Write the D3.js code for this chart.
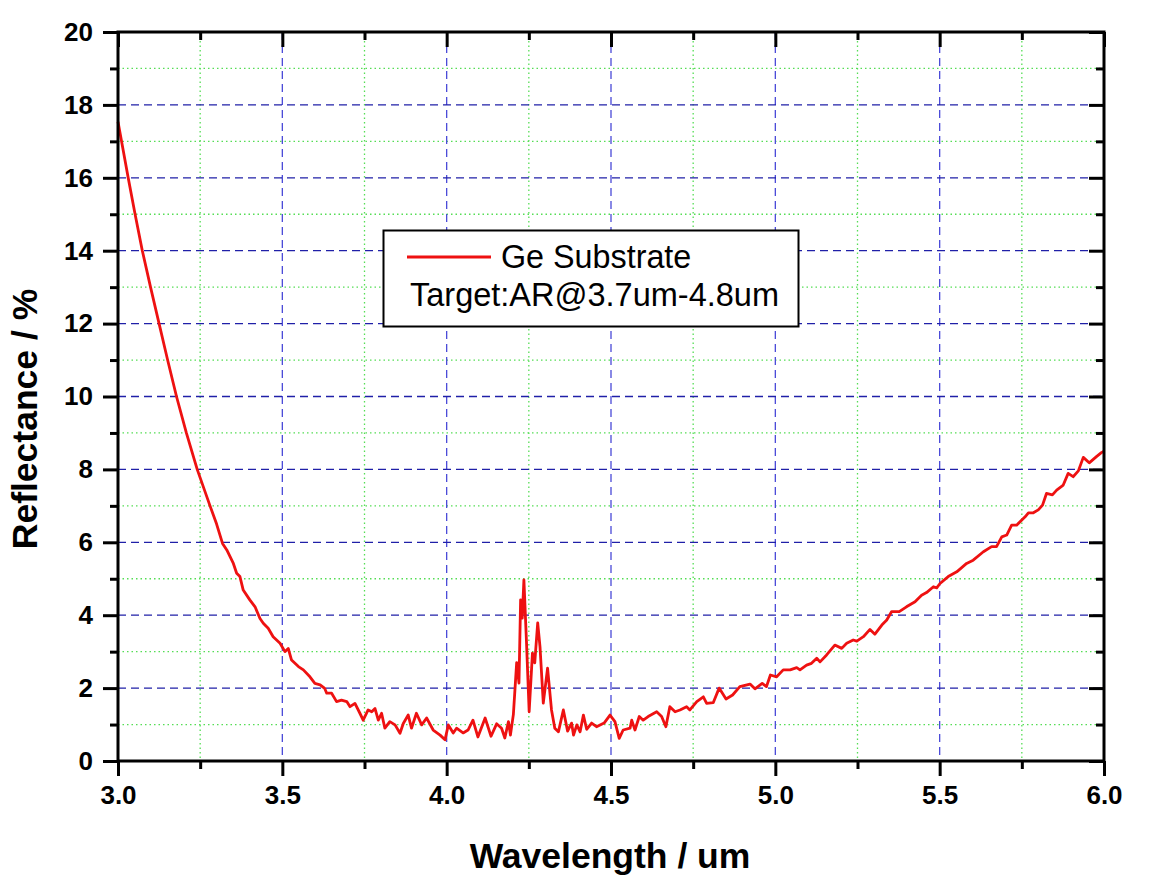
<!DOCTYPE html>
<html>
<head>
<meta charset="utf-8">
<script src="https://cdn.jsdelivr.net/npm/d3@7/dist/d3.min.js"></script>
<style>
html,body{margin:0;padding:0;background:#fff;}
svg{display:block;font-family:"Liberation Sans",Arial,sans-serif;}
</style>
</head>
<body>
<svg id="chart" width="1157" height="886"></svg>
<script>
// ---- data ----
const wavelength = [3.000,3.031,3.052,3.074,3.099,3.125,3.151,3.178,3.208,3.241,3.280,3.300,3.318,3.331,3.351,3.361,3.371,3.381,3.401,3.417,3.432,3.442,3.457,3.472,3.493,3.508,3.518,3.528,3.549,3.564,3.584,3.599,3.615,3.629,3.635,3.650,3.665,3.680,3.696,3.706,3.721,3.736,3.746,3.761,3.772,3.782,3.792,3.802,3.812,3.827,3.843,3.858,3.868,3.883,3.893,3.908,3.924,3.939,3.959,3.980,3.995,4.005,4.020,4.030,4.050,4.065,4.080,4.095,4.117,4.135,4.152,4.167,4.177,4.188,4.194,4.203,4.213,4.220,4.225,4.230,4.235,4.243,4.251,4.261,4.268,4.277,4.284,4.294,4.307,4.319,4.329,4.340,4.355,4.368,4.380,4.386,4.396,4.406,4.416,4.426,4.441,4.456,4.479,4.497,4.512,4.525,4.537,4.558,4.563,4.573,4.586,4.598,4.613,4.639,4.654,4.667,4.679,4.695,4.710,4.730,4.740,4.761,4.781,4.791,4.811,4.829,4.850,4.870,4.892,4.923,4.938,4.960,4.973,4.985,5.004,5.024,5.045,5.065,5.075,5.095,5.110,5.126,5.136,5.156,5.181,5.202,5.217,5.237,5.248,5.268,5.288,5.303,5.324,5.339,5.354,5.377,5.399,5.425,5.445,5.460,5.481,5.491,5.501,5.526,5.552,5.582,5.602,5.633,5.658,5.673,5.689,5.704,5.719,5.734,5.760,5.770,5.785,5.800,5.813,5.825,5.843,5.856,5.876,5.891,5.906,5.922,5.937,5.955,5.977,5.992,6.000];
const reflectance = [17.54,16.0,15.0,14.0,13.0,12.0,11.0,10.0,9.0,8.0,7.0,6.5,5.97,5.79,5.42,5.15,5.06,4.69,4.42,4.23,3.91,3.78,3.64,3.41,3.23,3.00,3.09,2.77,2.59,2.50,2.31,2.13,2.09,1.99,1.86,1.86,1.63,1.67,1.63,1.49,1.58,1.31,1.12,1.40,1.35,1.44,1.12,1.31,0.90,1.08,0.99,0.76,1.03,1.26,0.90,1.31,0.99,1.18,0.85,0.71,0.58,0.99,0.77,0.90,0.77,0.85,1.12,0.66,1.18,0.68,1.02,0.90,0.63,1.08,0.71,1.28,2.70,2.14,4.42,3.92,4.97,3.23,1.35,2.96,2.69,3.79,3.13,1.59,2.55,1.40,0.90,0.80,1.40,0.82,1.04,0.71,0.99,0.80,1.26,0.87,1.04,0.94,1.04,1.26,1.08,0.62,0.85,0.90,1.12,0.85,1.22,1.12,1.22,1.35,1.22,0.94,1.49,1.35,1.40,1.49,1.40,1.63,1.76,1.58,1.60,2.00,1.70,1.81,2.04,2.11,1.98,2.13,2.04,2.36,2.31,2.50,2.50,2.56,2.50,2.63,2.68,2.82,2.72,2.91,3.18,3.09,3.23,3.32,3.29,3.41,3.61,3.48,3.73,3.87,4.10,4.10,4.23,4.37,4.55,4.62,4.78,4.75,4.87,5.06,5.19,5.42,5.51,5.74,5.88,5.88,6.15,6.20,6.47,6.47,6.70,6.81,6.81,6.89,7.02,7.34,7.30,7.43,7.57,7.89,7.80,7.96,8.33,8.18,8.35,8.46,8.50];
const xMajorTicks = [3.0,3.5,4.0,4.5,5.0,5.5,6.0];
const xMinorTicks = [3.25,3.75,4.25,4.75,5.25,5.75];
const yMajorTicks = [0,2,4,6,8,10,12,14,16,18,20];
const yMinorTicks = [1,3,5,7,9,11,13,15,17,19];
const seriesName = "Ge Substrate";
const legendNote = "Target:AR@3.7um-4.8um";
const xTitle = "Wavelength / um";
const yTitle = "Reflectance / %";

// ---- layout ----
const L = 118, R = 1104, T = 32, B = 761;
const svg = d3.select("#chart");
const x = d3.scaleLinear().domain([3,6]).range([L,R]);
const y = d3.scaleLinear().domain([0,20]).range([B,T]);

// grid
const g = svg.append("g");
g.selectAll(".vminor").data(xMinorTicks).join("line")
  .attr("x1",d=>x(d)).attr("x2",d=>x(d)).attr("y1",T).attr("y2",B)
  .attr("stroke","#55dd55").attr("stroke-width",1.3).attr("stroke-dasharray","1.5,3");
g.selectAll(".hminor").data(yMinorTicks).join("line")
  .attr("x1",L).attr("x2",R).attr("y1",d=>y(d)).attr("y2",d=>y(d))
  .attr("stroke","#55dd55").attr("stroke-width",1.3).attr("stroke-dasharray","1.5,3");
g.selectAll(".vmajor").data(xMajorTicks.slice(1,-1)).join("line")
  .attr("x1",d=>x(d)).attr("x2",d=>x(d)).attr("y1",T).attr("y2",B)
  .attr("stroke","#4a4ad8").attr("stroke-width",1.3).attr("stroke-dasharray","8,5");
g.selectAll(".hmajor").data(yMajorTicks.slice(1,-1)).join("line")
  .attr("x1",L).attr("x2",R).attr("y1",d=>y(d)).attr("y2",d=>y(d))
  .attr("stroke","#2020a8").attr("stroke-width",1.3).attr("stroke-dasharray","8,5");

// data line
const pts = wavelength.map((w,i)=>[w,reflectance[i]]);
svg.append("path").datum(pts)
  .attr("fill","none").attr("stroke","#ee1111").attr("stroke-width",2.8)
  .attr("stroke-linejoin","round")
  .attr("d", d3.line().x(d=>x(d[0])).y(d=>y(d[1])));

// axes
function styleAxis(sel){
  sel.select(".domain").remove();
  sel.selectAll(".tick line").attr("stroke","#000").attr("stroke-width",3);
  sel.selectAll(".tick text").attr("fill","#000").attr("font-size",26).attr("font-weight","bold")
     .attr("font-family","'Liberation Sans',Arial,sans-serif");
}
const fmtX = d3.format(".1f");
svg.append("g").attr("transform",`translate(0,${B})`)
  .call(d3.axisBottom(x).tickValues(xMajorTicks).tickSize(15).tickPadding(10).tickFormat(fmtX))
  .call(styleAxis);
svg.append("g").attr("transform",`translate(0,${B})`)
  .call(d3.axisBottom(x).tickValues(xMinorTicks).tickSize(8).tickFormat(""))
  .call(styleAxis);
svg.append("g").attr("transform",`translate(0,${T})`)
  .call(d3.axisBottom(x).tickValues(xMajorTicks).tickSize(15).tickFormat(""))
  .call(styleAxis);
svg.append("g").attr("transform",`translate(0,${T})`)
  .call(d3.axisBottom(x).tickValues(xMinorTicks).tickSize(8).tickFormat(""))
  .call(styleAxis);
svg.append("g").attr("transform",`translate(${L},0)`)
  .call(d3.axisLeft(y).tickValues(yMajorTicks).tickSize(15).tickPadding(10).tickFormat(d3.format("d")))
  .call(styleAxis);
svg.append("g").attr("transform",`translate(${L},0)`)
  .call(d3.axisLeft(y).tickValues(yMinorTicks).tickSize(8).tickFormat(""))
  .call(styleAxis);
svg.append("g").attr("transform",`translate(${R},0)`)
  .call(d3.axisLeft(y).tickValues(yMajorTicks).tickSize(15).tickFormat(""))
  .call(styleAxis);
svg.append("g").attr("transform",`translate(${R},0)`)
  .call(d3.axisLeft(y).tickValues(yMinorTicks).tickSize(8).tickFormat(""))
  .call(styleAxis);

// frame
svg.append("rect").attr("x",L).attr("y",T).attr("width",R-L).attr("height",B-T)
  .attr("fill","none").attr("stroke","#000").attr("stroke-width",3);

// titles
svg.append("text").attr("x",610).attr("y",868).attr("text-anchor","middle")
  .attr("font-size",35.5).attr("font-weight","bold").text(xTitle);
svg.append("text").attr("transform","translate(37,419) rotate(-90)").attr("text-anchor","middle")
  .attr("font-size",35.5).attr("font-weight","bold").text(yTitle);

// legend
const lg = svg.append("g");
lg.append("rect").attr("x",383.5).attr("y",230.5).attr("width",415).attr("height",96)
  .attr("fill","#fff").attr("stroke","#000").attr("stroke-width",2);
lg.append("line").attr("x1",407).attr("x2",491).attr("y1",257).attr("y2",257)
  .attr("stroke","#ee1111").attr("stroke-width",2.8);
lg.append("text").attr("x",501).attr("y",268).attr("font-size",32.3).text(seriesName);
lg.append("text").attr("x",410).attr("y",306).attr("font-size",32.5).text(legendNote);
</script>
</body>
</html>
